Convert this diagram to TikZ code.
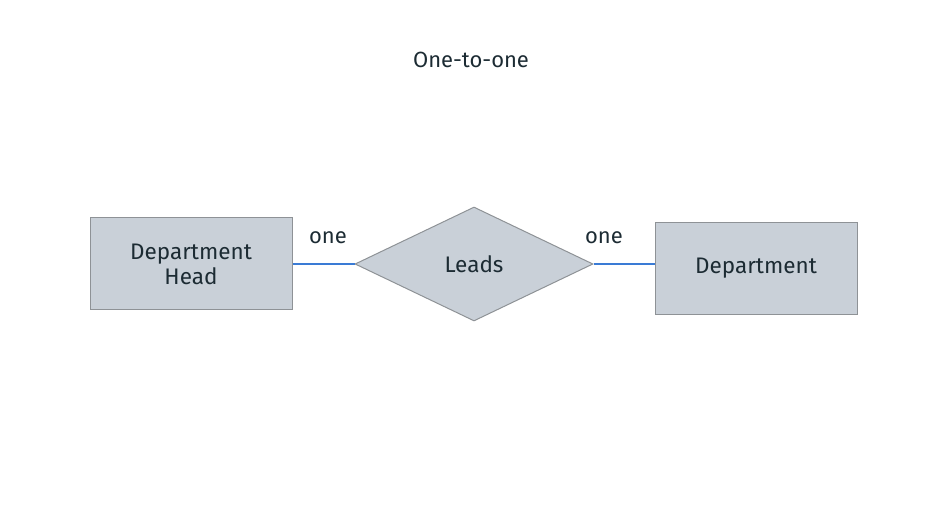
\documentclass[tikz,border=0pt]{standalone}
\usepackage{fontspec}
\setmainfont{Fira Sans}
\usetikzlibrary{shapes.geometric}
\definecolor{boxfill}{HTML}{C9D0D8}
\definecolor{boxline}{HTML}{8E9296}
\definecolor{ink}{HTML}{1C2B33}
\definecolor{link}{HTML}{3A7BD5}

\begin{document}
\begin{tikzpicture}[x=1pt,y=1pt,
  entity/.style={draw=boxline,fill=boxfill,line width=1pt,minimum width=202pt,
    minimum height=92pt,align=center,text=ink,font=\fontsize{22.5}{25}\selectfont},
  relation/.style={diamond,draw=boxline,fill=boxfill,line width=1pt,inner sep=0pt,
    minimum width=238pt,minimum height=114pt,text=ink,font=\fontsize{22.5}{25}\selectfont},
  conn/.style={draw=link,line width=1.6pt},
  card/.style={text=ink,font=\fontsize{22}{25}\selectfont}]
\useasboundingbox (0,0) rectangle (937,525);
\node[text=ink,font=\fontsize{22}{25}\selectfont] (title) at (471,465) {One-to-one};
\node[entity] (head) at (191,261) {Department\\Head};
\node[relation] (leads) at (474,261) {Leads};
\node[entity] (dept) at (756,256.5) {Department};
\draw[conn] (head.east|-leads) -- (leads.west);
\draw[conn] (leads.east) -- (dept.west|-leads);
\node[card] (one1) at (328,287) {one};
\node[card] (one2) at (604,287) {one};
\end{tikzpicture}
\end{document}
